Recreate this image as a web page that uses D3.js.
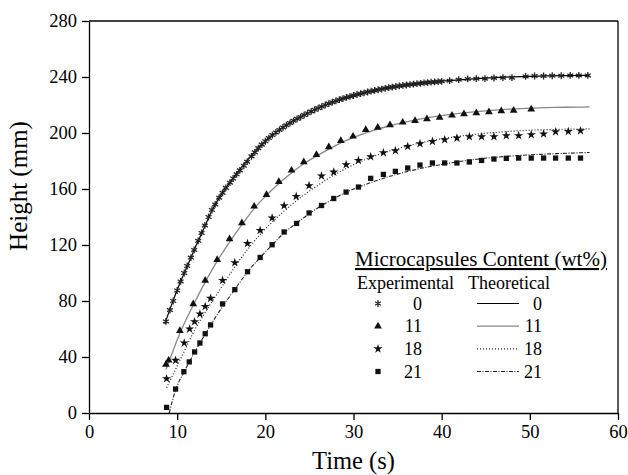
<!DOCTYPE html>
<html>
<head>
<meta charset="utf-8">
<script src="https://cdn.jsdelivr.net/npm/d3@7"></script>
<style>
body { margin: 0; background: #fff; }
svg { display: block; font-family: "Liberation Serif", "Times New Roman", serif; }
.axis path, .axis line { stroke: #000; stroke-width: 1.3; }
.axis text { font-family: "Liberation Serif", serif; font-size: 18.5px; fill: #000; }
</style>
</head>
<body>
<svg></svg>
<script>
// experimental points [time (s), height (mm)]
var exp0 = [[8.73,65.4],[9.18,73.5],[9.55,80],[10.0,87.5],[10.39,94],[10.8,100],[11.14,105],[11.56,111],[11.93,116.5],[12.39,123],[12.77,128.6],[13.14,134],[13.56,140],[13.94,145],[14.31,149],[14.76,153.8],[15.15,157.3],[15.52,160.8],[15.98,164.5],[16.35,167.5],[16.74,170.5],[17.11,173.3],[17.56,176.6],[17.94,179.5],[18.43,183.3],[18.81,186.2],[19.2,189.2],[19.6,191.7],[20.0,194.1],[20.4,196.4],[20.8,198.5],[21.2,200.4],[21.6,202.2],[22.0,204],[22.4,205.6],[22.8,207.2],[23.2,208.7],[23.6,210.1],[24.0,211.4],[24.4,212.8],[24.8,214.1],[25.2,215.4],[25.6,216.6],[26.0,217.8],[26.4,218.9],[26.8,220],[27.2,221],[27.6,222],[28.0,222.9],[28.4,223.8],[28.8,224.6],[29.2,225.4],[29.6,226.1],[30.0,226.8],[30.4,227.5],[30.8,228.1],[31.2,228.7],[31.6,229.3],[32.0,229.9],[32.4,230.4],[32.8,230.9],[33.2,231.4],[33.6,231.9],[34.0,232.4],[34.4,232.8],[34.8,233.2],[35.2,233.6],[35.6,234],[36.0,234.3],[36.4,234.6],[36.8,234.9],[37.2,235.2],[37.6,235.5],[38.0,235.8],[38.4,236],[38.8,236.3],[39.2,236.5],[39.6,236.7],[40.0,236.9],[40.9,237.4],[41.93,238.1],[42.95,238.6],[43.93,238.8],[44.91,238.8],[45.93,239.3],[46.95,239.5],[47.97,239.5],[49.52,240.4],[50.54,240.7],[51.56,240.7],[52.54,240.9],[53.56,240.9],[54.58,241.1],[55.56,241.1],[56.58,241.1]];
var exp11 = [[8.73,34.7],[9.03,37.6],[10.31,58.8],[11.82,77.9],[13.18,94.7],[14.54,109.5],[15.94,124.3],[17.34,135.7],[18.73,147.6],[20.13,155.9],[21.53,165.2],[22.97,173.3],[24.36,179.3],[25.8,184.5],[27.2,190],[28.56,194.5],[29.95,197.6],[31.39,202.4],[32.75,204],[34.14,205.7],[35.58,207.6],[36.98,208.8],[38.33,210],[39.77,211.1],[41.17,212.6],[42.53,213.6],[43.93,214.3],[45.36,215],[46.76,215.7],[48.16,216.1],[50.16,216.9]];
var exp18 = [[8.8,24.5],[9.82,37.6],[10.8,50],[11.41,60],[11.97,65.2],[12.58,70.7],[13.18,76.1],[13.79,81.9],[15.15,94.7],[16.54,107.4],[17.98,121.1],[19.41,130.4],[20.77,139.3],[22.13,148.1],[23.5,154.7],[24.96,162.4],[26.37,169.3],[27.76,172.1],[29.16,177.4],[30.56,180.4],[31.95,183.1],[33.39,185.9],[34.75,187.4],[36.15,190.4],[37.54,192.4],[38.95,194],[40.34,195.2],[41.73,196.4],[43.14,197.4],[44.53,197.4],[45.93,197.4],[47.33,198.1],[48.73,198.1],[50.16,198.8],[51.56,199.3],[52.92,200.9],[54.36,201.1],[55.75,201.6]];
var exp21 = [[8.8,4],[9.82,17.1],[10.76,29.5],[11.37,36.5],[11.98,43.6],[12.58,50],[13.18,56.6],[13.79,62.9],[15.15,77.9],[16.54,88.1],[17.98,100.9],[19.41,111.1],[20.77,120.2],[22.13,129.3],[23.54,135.4],[24.96,142.9],[26.37,148.2],[27.76,153.2],[29.16,157.8],[30.56,161.4],[31.95,167.6],[33.39,170.4],[34.75,172.6],[36.15,175],[37.54,177.1],[38.95,178.6],[40.34,178.6],[41.73,178.6],[43.14,179.3],[44.53,180.4],[45.93,181.4],[47.33,181.9],[48.73,182.1],[50.16,182.1],[51.56,182.1],[52.92,182.1],[54.36,182.1],[55.75,182.1]];

// theoretical curves
var theo0 = [[8.6,63.5],[9,71],[9.5,79.5],[10,87.8],[10.5,95.5],[11,102.8],[11.5,110],[12,117.5],[12.5,124.5],[13,131.5],[13.5,138.5],[14,145.3],[14.5,151],[15,156],[15.5,160.5],[16,164.8],[17,173],[18,180.8],[19,187.8],[20,194],[21,199.5],[22,204],[23,208],[24,211.4],[25,214.8],[26,217.8],[27,220.5],[28,222.9],[29,225],[30,226.8],[32,229.9],[34,232.4],[36,234.3],[38,235.8],[40,237],[42,238],[44,238.9],[46,239.6],[48,240.1],[50,240.5],[52,240.8],[54,241],[56.77,241.2]];
var theo11 = [[8.73,31],[9.03,36],[10.31,57],[11.82,77],[13.18,93.5],[14.54,108.5],[15.94,122],[17.34,134.5],[18.73,146],[20.13,155.5],[21.53,164],[22.97,171.5],[24.36,178],[25.8,183.5],[27.2,188.5],[28.56,193],[30,196.8],[32,201.3],[34,205],[36,208],[38,210.5],[40,212.4],[42,214],[44,215.3],[46,216.3],[48,217.1],[50,217.7],[52,218.1],[54,218.4],[56.77,218.6]];
var theo18 = [[8.8,18],[9.8,31],[10.8,44],[11.4,52],[12,59.5],[13.2,72],[14,80],[15.15,91],[16.5,104],[18,117],[19.4,127.5],[20.8,136.5],[22.1,144],[23.5,151.5],[25,158.5],[26.4,164.5],[27.8,170],[29.2,174.8],[30.6,179],[32,182.7],[34,187],[36,190.5],[38,193.5],[40,195.8],[42,197.7],[44,199.2],[46,200.4],[48,201.3],[50,202],[52,202.4],[54,202.7],[56.77,203]];
var theo21 = [[9.1,0],[9.8,16],[10.8,29.5],[12,43.6],[13.2,56.6],[13.8,62.9],[15.15,76],[16.5,88],[18,100.9],[19.4,111],[20.8,120.2],[22.1,128.5],[23.5,135.4],[25,142.5],[26.4,148.2],[27.8,153.2],[29.2,157.8],[30.6,161.4],[32,164.7],[34,168.8],[36,172.3],[38,175.2],[40,177.5],[42,179.6],[44,181.3],[46,182.6],[48,183.6],[50,184.4],[52,185],[54,185.5],[56.77,186.1]];

var contents = ["0", "11", "18", "21"];
var xTicks = [0, 10, 20, 30, 40, 50, 60];
var yTicks = [0, 40, 80, 120, 160, 200, 240, 280];

var W = 628, H = 475;
var margin = { top: 21, right: 10, bottom: 62, left: 89 };
var width = W - margin.left - margin.right;
var height = H - margin.top - margin.bottom;

var svg = d3.select("svg").attr("width", W).attr("height", H);
var g = svg.append("g").attr("transform", "translate(" + margin.left + "," + margin.top + ")");

var x = d3.scaleLinear().domain([0, 60]).range([0, width]);
var y = d3.scaleLinear().domain([0, 280]).range([height, 0]);

var line = d3.line()
    .curve(d3.curveMonotoneX)
    .x(function (d) { return x(d[0]); })
    .y(function (d) { return y(d[1]); });

var series = [
    { id: "0", exp: exp0, theo: theo0, symbol: d3.symbolAsterisk, size: 32, stroke: "#222", dash: null, lineColor: "#000", lineWidth: 1.2 },
    { id: "11", exp: exp11, theo: theo11, symbol: d3.symbolTriangle, size: 26, stroke: null, dash: null, lineColor: "#888", lineWidth: 1.3 },
    { id: "18", exp: exp18, theo: theo18, symbol: d3.symbolStar, size: 26, stroke: null, dash: "1,2", lineColor: "#222", lineWidth: 1.2 },
    { id: "21", exp: exp21, theo: theo21, symbol: d3.symbolSquare, size: 28, stroke: null, dash: "4,1.5,1,1.5", lineColor: "#222", lineWidth: 1.1 }
];

// frame
g.append("line").attr("x1", 0).attr("x2", width).attr("y1", 0).attr("y2", 0)
    .attr("stroke", "#000").attr("stroke-width", 1.3);
g.append("line").attr("x1", width).attr("x2", width).attr("y1", 0).attr("y2", height)
    .attr("stroke", "#000").attr("stroke-width", 1.3);

g.append("g")
    .attr("class", "axis axis--x")
    .attr("transform", "translate(0," + height + ")")
    .call(d3.axisBottom(x).tickValues(xTicks).tickSize(7).tickSizeOuter(0).tickPadding(5));

g.append("g")
    .attr("class", "axis axis--y")
    .call(d3.axisLeft(y).tickValues(yTicks).tickSize(7).tickSizeOuter(0).tickPadding(5));

g.append("text")
    .attr("x", width / 2)
    .attr("y", height + 56)
    .attr("text-anchor", "middle")
    .style("font-size", "24.5px")
    .text("Time (s)");

g.append("text")
    .attr("transform", "rotate(-90)")
    .attr("x", -165)
    .attr("y", -62)
    .attr("text-anchor", "middle")
    .style("font-size", "25px")
    .text("Height (mm)");

function drawMarks(sel, s) {
    sel.append("path")
        .attr("d", d3.symbol().type(s.symbol).size(s.size)())
        .attr("fill", s.stroke ? "none" : "#111")
        .attr("stroke", s.stroke ? s.stroke : "none")
        .attr("stroke-width", s.stroke ? 1.3 : 0);
}

series.forEach(function (s) {
    g.append("path")
        .datum(s.theo)
        .attr("fill", "none")
        .attr("stroke", s.lineColor)
        .attr("stroke-width", s.lineWidth)
        .attr("stroke-dasharray", s.dash)
        .attr("d", line);

    g.selectAll(".pt" + s.id)
        .data(s.exp)
        .enter().append("g")
        .attr("class", "pt" + s.id)
        .attr("transform", function (d) { return "translate(" + x(d[0]) + "," + y(d[1]) + ")"; })
        .each(function () { drawMarks(d3.select(this), s); });
});

// legend
var legend = svg.append("g").style("font-size", "18px");
legend.append("text")
    .attr("x", 355).attr("y", 266)
    .style("font-size", "21px")
    .style("text-decoration", "underline")
    .text("Microcapsules Content (wt%)");
legend.append("text").attr("x", 357).attr("y", 289).text("Experimental");
legend.append("text").attr("x", 468).attr("y", 289).text("Theoretical");

var rowY = d3.scalePoint().domain(contents).range([303.5, 371.5]);

series.forEach(function (s) {
    var yy = rowY(s.id);
    var m = legend.append("g").attr("transform", "translate(378," + yy + ")");
    drawMarks(m, s);
    legend.append("text").attr("x", 422).attr("y", yy + 6).attr("text-anchor", "end").text(s.id);
    legend.append("line")
        .attr("x1", 477).attr("x2", 519).attr("y1", yy).attr("y2", yy)
        .attr("stroke", s.lineColor)
        .attr("stroke-width", s.lineWidth)
        .attr("stroke-dasharray", s.dash);
    legend.append("text").attr("x", 542).attr("y", yy + 6).attr("text-anchor", "end").text(s.id);
});
</script>
</body>
</html>
